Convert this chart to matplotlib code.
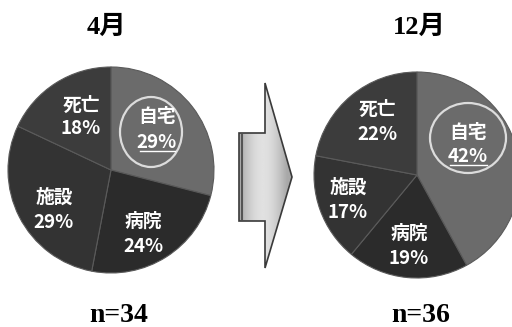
import matplotlib
matplotlib.use("Agg")
import matplotlib.pyplot as plt
import numpy as np
from matplotlib.patches import Polygon, Ellipse

W, H = 512, 327

# Data
categories = ["自宅", "病院", "施設", "死亡"]
april_values = [29, 24, 29, 18]
december_values = [42, 19, 17, 22]
panel_titles = ["4月", "12月"]
sample_sizes = ["n=34", "n=36"]

slice_colors = ["#6b6b6b", "#2b2b2b", "#333333", "#3c3c3c"]

fig = plt.figure(figsize=(W / 100, H / 100), dpi=100)
ax = fig.add_axes([0, 0, 1, 1])
ax.set_xlim(0, W)
ax.set_ylim(0, H)
ax.axis("off")

def Y(y):
    return H - y

label_font = ["Noto Sans CJK JP", "DejaVu Sans"]
title_font = ["Liberation Serif", "Noto Sans CJK JP"]

# label positions: (x, y of name, y of percentage)
panels = [
    dict(values=april_values, center=(111, 170), r=103,
         labels={"自宅": (157, 117, 142), "病院": (143, 221, 246),
                 "施設": (54, 197, 223), "死亡": (81, 105, 129)},
         ellipse=(151, 132, 62, 70), underline=(140, 175, 151),
         title_x=106, n_x=119),
    dict(values=december_values, center=(417, 175), r=103,
         labels={"自宅": (468, 132, 156), "病院": (409, 233, 258),
                 "施設": (348, 187, 212), "死亡": (377, 109, 135)},
         ellipse=(468, 138, 76, 70), underline=(450, 487, 165),
         title_x=419, n_x=421),
]

for p, title, nlab in zip(panels, panel_titles, sample_sizes):
    cx, cy = p["center"]
    ax.pie(p["values"], colors=slice_colors, startangle=90,
           counterclock=False, center=(cx, Y(cy)), radius=p["r"],
           wedgeprops=dict(edgecolor="#5a5a5a", linewidth=0.8),
           frame=True)
    for cat, val in zip(categories, p["values"]):
        lx, ly1, ly2 = p["labels"][cat]
        ax.text(lx, Y(ly1), cat, color="white", fontsize=13.5, fontweight="bold",
                family=label_font, ha="center", va="center")
        ax.text(lx, Y(ly2), f"{val}%", color="white", fontsize=13.5, fontweight="bold",
                family=label_font, ha="center", va="center")
    ux0, ux1, uy = p["underline"]
    ax.plot([ux0, ux1], [Y(uy), Y(uy)], color="white", lw=1.0)
    ex, ey, ew, eh = p["ellipse"]
    ax.add_patch(Ellipse((ex, Y(ey)), ew, eh, fill=False, edgecolor="#dcdcdc", lw=1.6))
    ax.text(p["title_x"], Y(27), title, fontsize=19, fontweight="bold",
            family=title_font, ha="center", va="center", color="black")
    ax.text(p["n_x"], Y(315), nlab, fontsize=20, fontweight="bold",
            family=title_font, ha="center", va="center", color="black")

# Transition arrow with a light metallic gradient
arrow_pts = [(239, 133), (265, 133), (265, 83), (292, 177), (265, 268),
             (265, 221), (239, 221)]
arrow_pts = [(x, Y(y)) for x, y in arrow_pts]
arrow = Polygon(arrow_pts, closed=True, facecolor="none", edgecolor="#3a3a3a", lw=1.2,
                zorder=3)
ax.add_patch(arrow)
grad = np.linspace(0, 1, 256)
shade = 0.66 + 0.22 * np.sin(np.pi * np.clip(grad * 1.1, 0, 1))
img = np.tile(shade, (10, 1))
im = ax.imshow(img, cmap="gray", vmin=0, vmax=1, extent=(239, 292, Y(268), Y(83)),
               aspect="auto", zorder=1)
im.set_clip_path(arrow)
ax.plot([242, 242], [Y(135), Y(219)], color="#555555", lw=1.5, zorder=2)

ax.set_xlim(0, W)
ax.set_ylim(0, H)
ax.set_aspect("auto")
ax.axis("off")

fig.savefig("out.png", dpi=100, facecolor="white")
